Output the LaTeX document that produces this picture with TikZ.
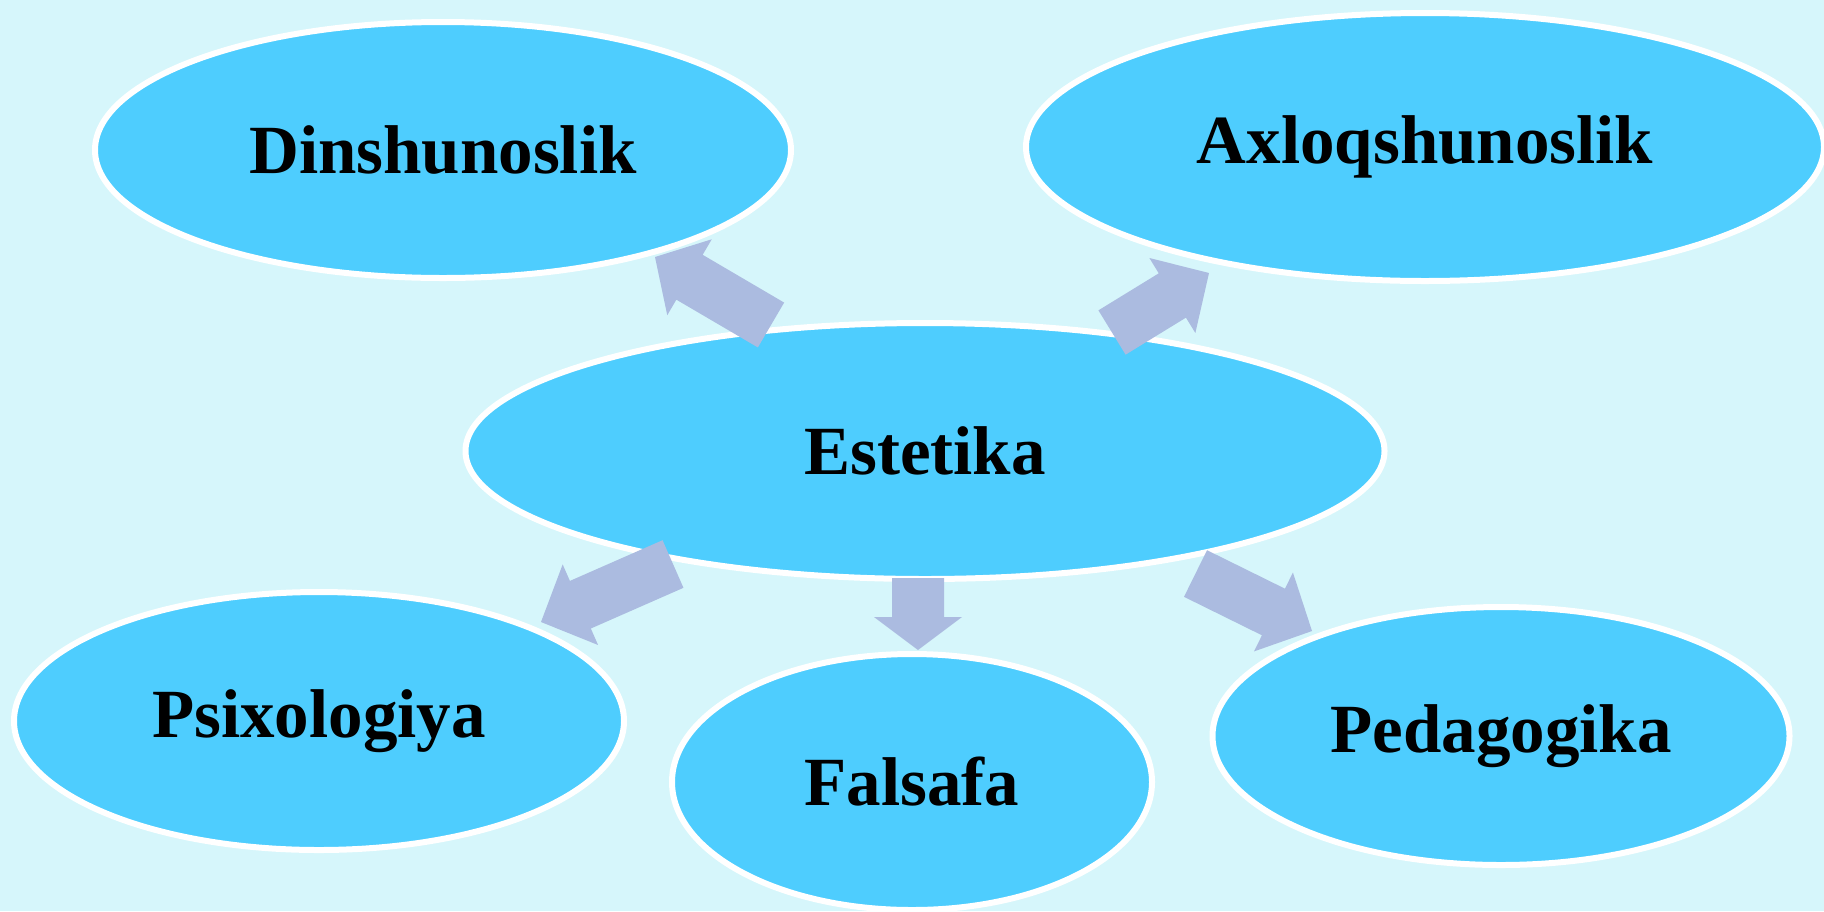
\documentclass[tikz,border=0pt]{standalone}
\usepackage{fontspec}
\setmainfont{Liberation Serif}
\usetikzlibrary{shapes.geometric,calc}
\definecolor{bgc}{HTML}{D6F6FB}
\definecolor{ellc}{HTML}{4ECDFE}
\definecolor{arrc}{HTML}{ABBBE0}
\tikzset{
  topic/.style={ellipse, fill=ellc, draw=white, line width=3pt, inner sep=0pt,
    font=\bfseries\fontsize{34.5pt}{40pt}\selectfont, text=black},
  arrfill/.style={fill=arrc, draw=none}
}
\newcommand\fatarr[3]{%
  \coordinate (hb) at ($(#2)!#3!(#1)$);
  \fill[arrfill] ($(#1)!13pt!90:(#2)$) -- ($(hb)!13pt!90:(#2)$) -- ($(hb)!22pt!90:(#2)$)
    -- (#2) -- ($(hb)!22pt!-90:(#2)$) -- ($(hb)!13pt!-90:(#2)$) -- ($(#1)!13pt!-90:(#2)$) -- cycle;
}
\begin{document}
\begin{tikzpicture}[x=0.5pt,y=-0.5pt]
\useasboundingbox (0,0) rectangle (1824,911);
\clip (0,0) rectangle (1824,911);
\fill[bgc] (0,0) rectangle (1824,911);
\node[topic, minimum width=348pt, minimum height=128pt] (din) at (443,150) {Dinshunoslik};
\node[topic, minimum width=399pt, minimum height=134pt] (axl) at (1425,147) {Axloqshunoslik};
\node[topic, minimum width=459.5pt, minimum height=128pt] (est) at (925,451) {Estetika};
\node[topic, minimum width=305pt, minimum height=129pt] (psi) at (319,721) {Psixologiya};
\node[topic, minimum width=240pt, minimum height=128pt] (fal) at (912,782) {Falsafa};
\node[topic, minimum width=288.5pt, minimum height=129pt] (ped) at (1501,736) {Pedagogika};
% arrow end points
\coordinate (t1) at (771,325); \coordinate (p1) at (655,257);
\coordinate (t2) at (1112,332.5); \coordinate (p2) at (1209,273);
\coordinate (t3) at (673,564); \coordinate (p3) at (541,622);
\coordinate (t4) at (918,578); \coordinate (p4) at (918,650);
\coordinate (t5) at (1195.5,573.5); \coordinate (p5) at (1312,631);
\fatarr{t1}{p1}{20pt}
\fatarr{t2}{p2}{21.5pt}
\fatarr{t3}{p3}{21.5pt}
\fatarr{t4}{p4}{16.5pt}
\fatarr{t5}{p5}{21.5pt}
\end{tikzpicture}
\end{document}
